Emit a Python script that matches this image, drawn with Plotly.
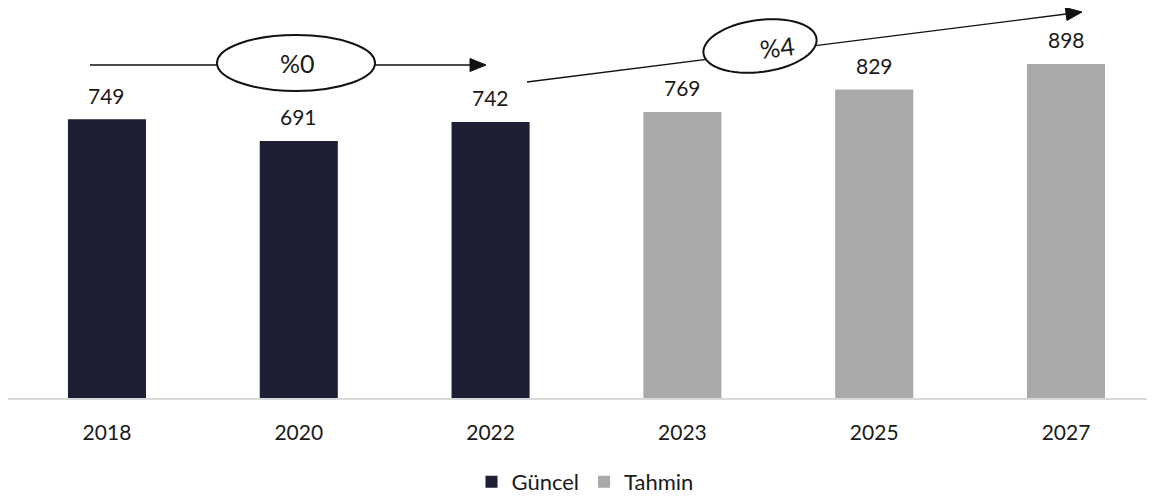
import numpy as np
import plotly.graph_objects as go

# ---- data ----
years_actual = ["2018", "2020", "2022"]
values_actual = [749, 691, 742]
years_forecast = ["2023", "2025", "2027"]
values_forecast = [769, 829, 898]
all_years = years_actual + years_forecast
growth_labels = ["%0", "%4"]

OFF = 8  # page body margin
W, H = 1155 - OFF, 497 - OFF
ML, MR, MT, MB = 0, 0, 0, 99
PH = H - MT - MB
FONT = "Lato"
DARK = "#1f1f33"
GRAY = "#a9a9a9"
TXT = "#1a1a1a"


def px2paper(x, y):
    """reference-image pixel -> paper coords"""
    x = x - OFF
    y = y - OFF
    return (x - ML) / (W - ML - MR), (PH - (y - MT)) / PH


fig = go.Figure()
fig.add_trace(go.Bar(x=years_actual, y=values_actual, name="Güncel",
                     marker=dict(color=DARK, line=dict(width=0)), width=0.407))
fig.add_trace(go.Bar(x=years_forecast, y=values_forecast, name="Tahmin",
                     marker=dict(color=GRAY, line=dict(width=0)), width=0.407))

annotations = []
for xv, yv in zip(years_actual + years_forecast, values_actual + values_forecast):
    annotations.append(dict(x=all_years.index(xv), y=yv, xref="x", yref="y",
                            text=str(yv), showarrow=False, yshift=24,
                            xanchor="center", yanchor="middle",
                            font=dict(family=FONT, size=21, color=TXT)))

shapes = []
# arrow 1 (horizontal)
x0, y0 = px2paper(90, 65)
x1, y1 = px2paper(474, 65)
shapes.append(dict(type="line", xref="paper", yref="paper", x0=x0, y0=y0, x1=x1, y1=y1,
                   line=dict(color="#111", width=1.3)))
tip = np.array([486.0, 65.0])
d = np.array([1.0, 0.0])
n = np.array([-d[1], d[0]])
b = tip - 16 * d
pts = [tip, b + 6.5 * n, b - 6.5 * n]
path = "M " + " L ".join("%f,%f" % px2paper(*p) for p in pts) + " Z"
shapes.append(dict(type="path", xref="paper", yref="paper", path=path,
                   fillcolor="#111", line=dict(color="#111", width=1)))
# ellipse 1
ex0, ey0 = px2paper(217, 35)
ex1, ey1 = px2paper(375, 91)
shapes.append(dict(type="circle", xref="paper", yref="paper", x0=ex0, y0=ey1, x1=ex1, y1=ey0,
                   fillcolor="white", line=dict(color="#111", width=2)))

# arrow 2 (rising)
start = np.array([527.0, 82.0])
tip2 = np.array([1082.0, 12.0])
d2 = (tip2 - start) / np.linalg.norm(tip2 - start)
n2 = np.array([-d2[1], d2[0]])
lend = tip2 - 12 * d2
shapes.append(dict(type="line", xref="paper", yref="paper",
                   x0=px2paper(*start)[0], y0=px2paper(*start)[1],
                   x1=px2paper(*lend)[0], y1=px2paper(*lend)[1],
                   line=dict(color="#111", width=1.3)))
b2 = tip2 - 16 * d2
pts2 = [tip2, b2 + 6.5 * n2, b2 - 6.5 * n2]
path2 = "M " + " L ".join("%f,%f" % px2paper(*p) for p in pts2) + " Z"
shapes.append(dict(type="path", xref="paper", yref="paper", path=path2,
                   fillcolor="#111", line=dict(color="#111", width=1)))
# ellipse 2 (rotated)
cx, cy, rx, ry = 760.0, 46.0, 57.0, 26.0
th = np.deg2rad(-7.5)
t = np.linspace(0, 2 * np.pi, 73)
exs = cx + rx * np.cos(t) * np.cos(th) - ry * np.sin(t) * np.sin(th)
eys = cy + rx * np.cos(t) * np.sin(th) + ry * np.sin(t) * np.cos(th)
path3 = "M " + " L ".join("%f,%f" % px2paper(a, c) for a, c in zip(exs, eys)) + " Z"
shapes.append(dict(type="path", xref="paper", yref="paper", path=path3,
                   fillcolor="white", line=dict(color="#111", width=2)))

gx, gy = px2paper(297, 63)
annotations.append(dict(xref="paper", yref="paper", x=gx, y=gy, text=growth_labels[0],
                        xanchor="center", yanchor="middle",
                        showarrow=False, font=dict(family=FONT, size=25, color=TXT)))
gx2, gy2 = px2paper(777, 47)
annotations.append(dict(xref="paper", yref="paper", x=gx2, y=gy2, text=growth_labels[1],
                        xanchor="center", yanchor="middle",
                        showarrow=False, textangle=-7, font=dict(family=FONT, size=25, color=TXT)))

lx = (585 - OFF) / W
ly = (H - (482 - OFF)) / H
fig.update_layout(
    width=W, height=H,
    margin=dict(l=ML, r=MR, t=MT, b=MB, pad=0, autoexpand=False),
    paper_bgcolor="white", plot_bgcolor="white",
    barmode="overlay",
    showlegend=True,
    legend=dict(orientation="h", xref="container", yref="container",
                x=lx, xanchor="center", y=ly, yanchor="middle",
                font=dict(family=FONT, size=22, color=TXT), itemwidth=30,
                traceorder="normal"),
    xaxis=dict(type="category", categoryorder="array", categoryarray=all_years,
               range=[-0.516, 5.464], showgrid=False, zeroline=False,
               showline=True, linecolor="#d9d9d9", linewidth=1.5,
               ticks="", ticklabelstandoff=15,
               tickfont=dict(family=FONT, size=21, color=TXT)),
    yaxis=dict(range=[0, PH / 0.372], visible=False, showgrid=False, zeroline=False),
    shapes=shapes,
    annotations=annotations,
    font=dict(family=FONT),
)

fig.write_html("out.html")
